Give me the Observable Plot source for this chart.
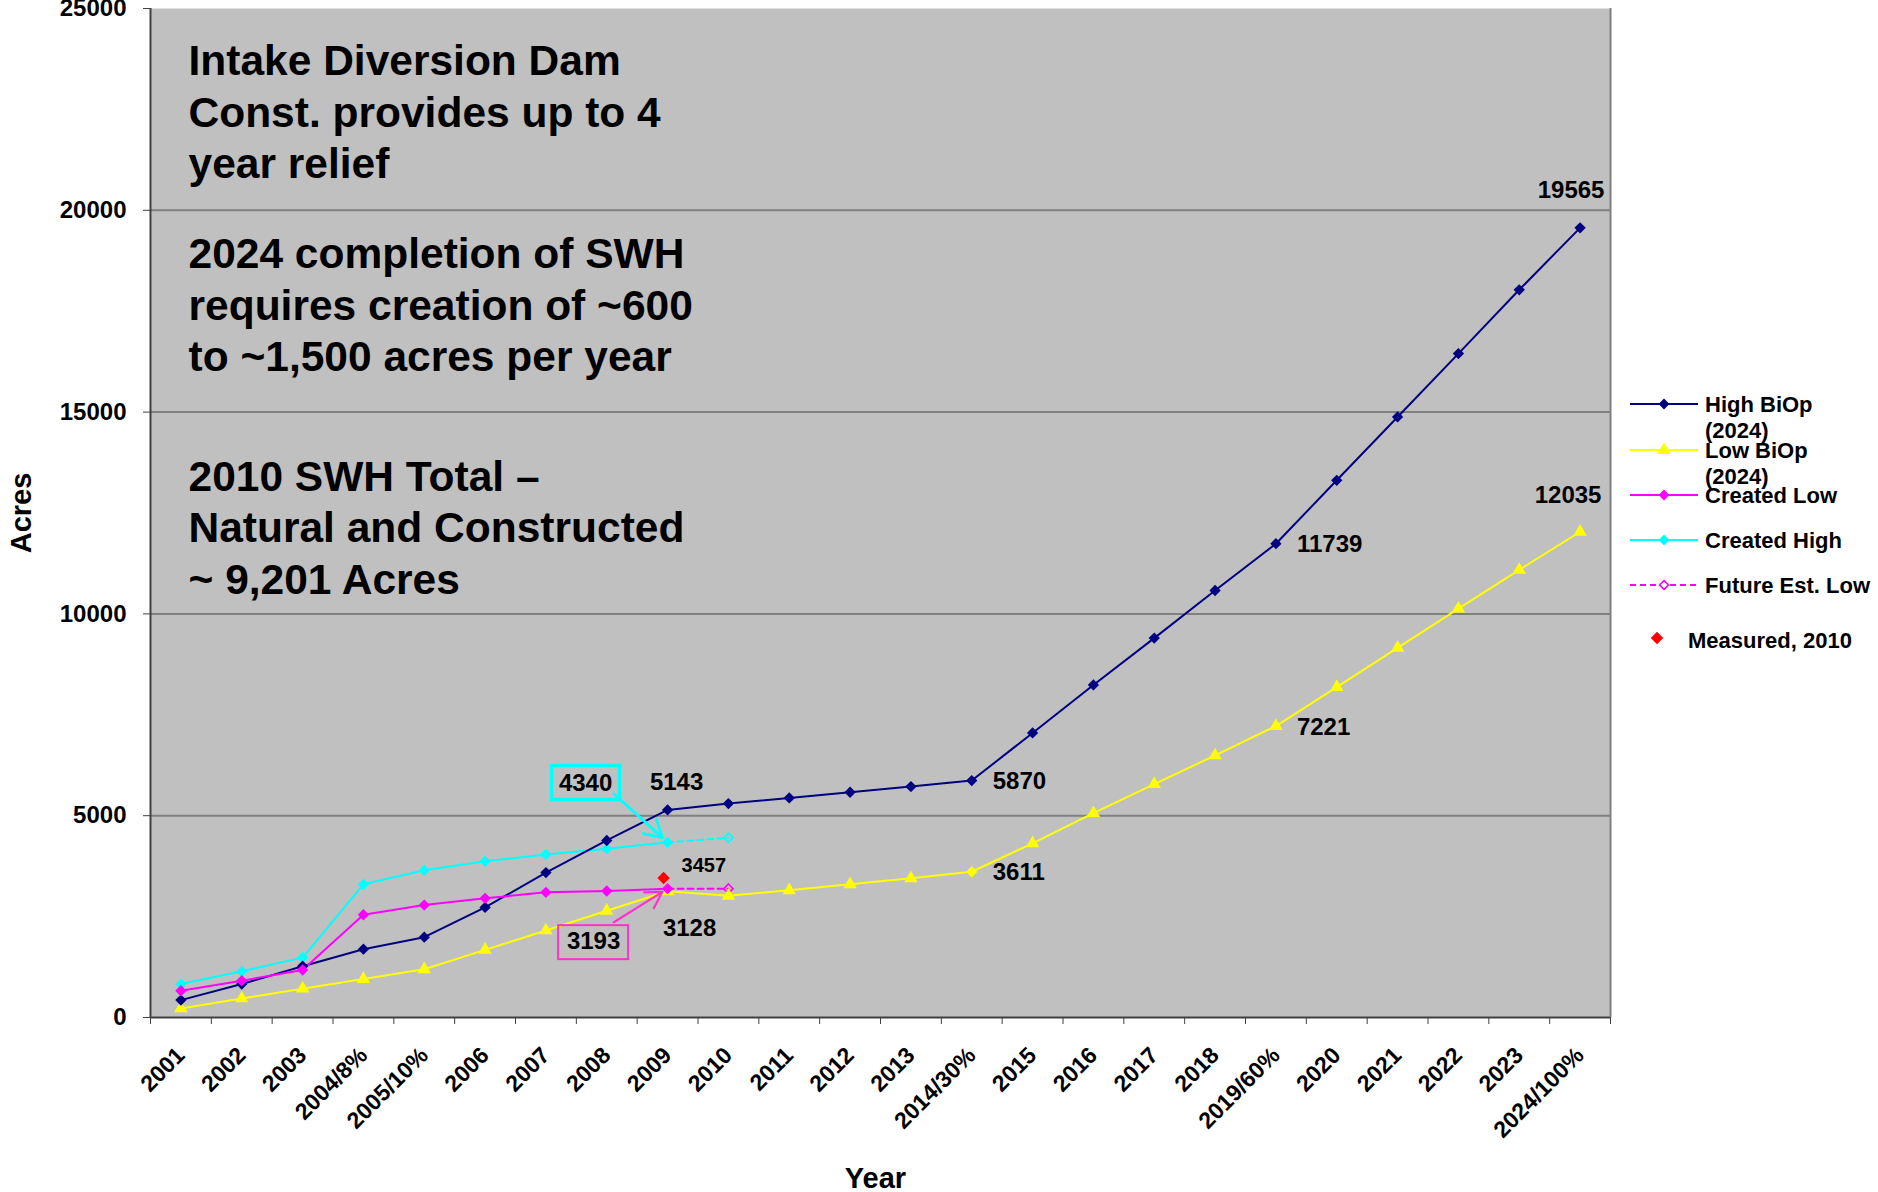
<!DOCTYPE html>
<html>
<head>
<meta charset="utf-8">
<script src="https://cdn.jsdelivr.net/npm/d3@7"></script>
<script src="https://cdn.jsdelivr.net/npm/@observablehq/plot@0.6"></script>
<style>
  html, body { margin: 0; padding: 0; background: #fff; overflow: hidden; }
  #wrap { position: relative; width: 1878px; height: 1192px; }
  #legend { position: absolute; left: 0; top: 0; pointer-events: none; }
</style>
</head>
<body>
<div id="wrap"></div>
<script>
// ---------------- DATA ----------------
const categories = ["2001","2002","2003","2004/8%","2005/10%","2006","2007","2008","2009","2010",
  "2011","2012","2013","2014/30%","2015","2016","2017","2018","2019/60%","2020","2021","2022","2023","2024/100%"];

const highBiOp = [431, 829, 1269, 1692, 1990, 2728, 3590, 4386, 5143, 5300, 5440, 5581, 5721, 5870,
  7050, 8240, 9400, 10580, 11739, 13310, 14880, 16450, 18030, 19565];
const lowBiOp = [224, 473, 713, 954, 1194, 1675, 2156, 2645, 3128, 3015, 3151, 3300, 3449, 3611,
  4314, 5062, 5783, 6494, 7221, 8186, 9160, 10130, 11090, 12035];
const createdLow  = [663, 912, 1177, 2546, 2786, 2952, 3101, 3134, 3193];      // 2001-2009
const createdHigh = [829, 1144, 1484, 3300, 3648, 3872, 4038, 4179, 4340];     // 2001-2009
const futureCategories = ["2009", "2010"];
const futureEstLow  = [3193, 3193];
const futureEstHigh = [4340, 4453];
const measuredCategory = "2009";
const measured2010 = 3457;

const yTicks = [0, 5000, 10000, 15000, 20000, 25000];

const note1 = ["Intake Diversion Dam", "Const. provides up to 4", "year relief"];
const note2 = ["2024 completion of SWH", "requires creation of ~600", "to ~1,500 acres per year"];
const note3 = ["2010 SWH Total \u2013", "Natural and Constructed", "~ 9,201 Acres"];

// ---------------- HELPERS ----------------
const FONT = "'Liberation Sans', Arial, Helvetica, sans-serif";
const idx = c => categories.indexOf(c);
const pos = i => i + 0.5;                       // centre of a category slot
const rows = (vals, cats) => vals.map((v, k) => ({x: pos(idx(cats[k])), v, cat: cats[k]}));

const high  = rows(highBiOp, categories);
const low   = rows(lowBiOp, categories);
const cLow  = rows(createdLow, categories.slice(0, createdLow.length));
const cHigh = rows(createdHigh, categories.slice(0, createdHigh.length));
const fLow  = rows(futureEstLow, futureCategories);
const fHigh = rows(futureEstHigh, futureCategories);
const meas  = [{x: pos(idx(measuredCategory)), v: measured2010}];

const NAVY = "#000080", YELLOW = "#FFFF00", MAGENTA = "#FF00FF", CYAN = "#00FFFF", RED = "#FF0000", PINK = "#FF33CC";
const at = (arr, c) => arr.find(d => d.cat === c);

// data labels (value taken from series) with their placement relative to the point
const labelSpecs = [
  {d: at(high, "2024/100%"), dx: -9,  dy: -38, anchor: "middle", size: 24},
  {d: at(low,  "2024/100%"), dx: -12, dy: -36, anchor: "middle", size: 24},
  {d: at(high, "2019/60%"),  dx: 21,  dy: 1,   anchor: "start",  size: 24},
  {d: at(low,  "2019/60%"),  dx: 21,  dy: 1,   anchor: "start",  size: 24},
  {d: at(high, "2014/30%"),  dx: 21,  dy: 1,   anchor: "start",  size: 24},
  {d: at(low,  "2014/30%"),  dx: 21,  dy: 1,   anchor: "start",  size: 24},
  {d: at(high, "2009"),      dx: 9,   dy: -28, anchor: "middle", size: 24},
  {d: at(low,  "2009"),      dx: 22,  dy: 37,  anchor: "middle", size: 24},
  {d: meas[0],               dx: 14,  dy: -12, anchor: "start",  size: 20}
];

const cyanPt = at(cHigh, "2009"), pinkPt = at(cLow, "2009");
const arrows = [
  {x1: 7.616, y1: 5543, x2: cyanPt.x, y2: cyanPt.v, color: CYAN, sw: 2.8, head: 10.5, inset: 7},
  {x1: 7.616, y1: 2361, x2: pinkPt.x, y2: pinkPt.v, color: PINK, sw: 2.2, head: 12.5, inset: 6}
];

const bold = {fontWeight: "bold"};

const plot = Plot.plot({
  width: 1878,
  height: 1192,
  marginLeft: 150,
  marginRight: 268,
  marginTop: 8,
  marginBottom: 175,
  style: {fontFamily: FONT, fontWeight: "bold", background: "white", color: "black"},
  x: {type: "linear", domain: [0, categories.length]},
  y: {domain: [0, 25000]},
  marks: [
    Plot.frame({fill: "#C0C0C0", stroke: "none"}),
    Plot.ruleY(yTicks.filter(t => t > 0 && t < 25000), {stroke: "#808080", strokeWidth: 2}),
    Plot.ruleX([categories.length], {stroke: "#808080", strokeWidth: 2}),
    Plot.axisY({ticks: yTicks, tickSize: 7, tickPadding: 17, tickFormat: d => String(d), fontSize: 24, label: null, stroke: "#404040", ...bold}),
    Plot.axisX({ticks: d3.range(0, categories.length + 1), tickSize: 7, tickFormat: () => "", label: null, stroke: "#404040"}),
    Plot.axisX({ticks: categories.map((c, i) => pos(i)), tickSize: 0, tickPadding: 34, tickRotate: -45,
      tickFormat: t => categories[Math.floor(t)], fontSize: 23, label: null, ...bold}),
    Plot.ruleX([0], {stroke: "#404040", strokeWidth: 2}),
    Plot.ruleY([0], {stroke: "#404040", strokeWidth: 2}),

    // annotations
    ...[[note1, 30], [note2, 223], [note3, 445.5]].map(([lines, dy]) =>
      Plot.text([lines.join("\n")], {text: d => d, frameAnchor: "top-left", textAnchor: "start", lineAnchor: "top",
        lineHeight: 1.215, fontSize: 42.5, dx: 38, dy, fill: "black", ...bold})),

    // series lines
    Plot.line(fHigh, {x: "x", y: "v", stroke: CYAN, strokeWidth: 2, strokeDasharray: "6,4"}),
    Plot.line(fLow, {x: "x", y: "v", stroke: MAGENTA, strokeWidth: 2, strokeDasharray: "6,4"}),
    Plot.line(cHigh, {x: "x", y: "v", stroke: CYAN, strokeWidth: 2}),
    Plot.line(low, {x: "x", y: "v", stroke: YELLOW, strokeWidth: 2}),
    Plot.line(high, {x: "x", y: "v", stroke: NAVY, strokeWidth: 2}),
    Plot.line(cLow, {x: "x", y: "v", stroke: MAGENTA, strokeWidth: 2}),

    // markers
    Plot.dot(fHigh.slice(1), {x: "x", y: "v", symbol: "diamond2", r: 4.2, fill: "none", stroke: CYAN, strokeWidth: 1.6}),
    Plot.dot(fLow.slice(1), {x: "x", y: "v", symbol: "diamond2", r: 4.2, fill: "none", stroke: MAGENTA, strokeWidth: 1.6}),
    Plot.dot(cHigh, {x: "x", y: "v", symbol: "diamond2", r: 5.1, fill: CYAN, stroke: "none"}),
    Plot.dot(low, {x: "x", y: "v", symbol: "triangle", r: 5, fill: YELLOW, stroke: "none", filter: d => d.cat !== "2014/30%"}),
    Plot.dot(low, {x: "x", y: "v", symbol: "diamond2", r: 5.1, fill: YELLOW, stroke: "none", filter: d => d.cat === "2014/30%"}),
    Plot.dot(high, {x: "x", y: "v", symbol: "diamond2", r: 5.1, fill: NAVY, stroke: "none"}),
    Plot.dot(cLow, {x: "x", y: "v", symbol: "diamond2", r: 5.1, fill: MAGENTA, stroke: "none"}),
    Plot.dot(meas, {x: "x", y: "v", symbol: "diamond2", r: 5.6, fill: RED, stroke: "none", dx: -4}),

    // callout boxes
    Plot.rect([cyanPt], {x1: "x", x2: "x", y1: "v", y2: "v", insetLeft: -34, insetRight: -34, insetTop: -17, insetBottom: -17,
      dx: -81.5, dy: -59.3, fill: "none", stroke: CYAN, strokeWidth: 3.5}),
    Plot.text([cyanPt], {x: "x", y: "v", text: d => String(d.v), dx: -82, dy: -59.3, fontSize: 24, fill: "black", ...bold}),
    Plot.rect([pinkPt], {x1: "x", x2: "x", y1: "v", y2: "v", insetLeft: -35, insetRight: -35, insetTop: -17, insetBottom: -17,
      dx: -74, dy: 54, fill: "none", stroke: PINK, strokeWidth: 2}),
    Plot.text([pinkPt], {x: "x", y: "v", text: d => String(d.v), dx: -74, dy: 53, fontSize: 24, fill: "black", ...bold}),
    ...arrows.map(a => Plot.arrow([a], {x1: "x1", y1: "y1", x2: "x2", y2: "y2", stroke: a.color, strokeWidth: a.sw,
      headLength: a.head, insetEnd: a.inset})),

    // data labels
    ...labelSpecs.map(s => Plot.text([s.d], {x: "x", y: "v", text: d => String(d.v), dx: s.dx, dy: s.dy,
      textAnchor: s.anchor, fontSize: s.size, fill: "black", ...bold})),

    // axis titles
    Plot.text(["Acres"], {text: d => d, frameAnchor: "left", textAnchor: "middle", rotate: -90, dx: -128.5, fontSize: 29, fill: "black", ...bold}),
    Plot.text(["Year"], {text: d => d, frameAnchor: "bottom", textAnchor: "middle", dx: -5, dy: 170, fontSize: 29, fill: "black", ...bold})
  ]
});

const wrap = document.getElementById("wrap");
wrap.appendChild(plot);

// ---------------- LEGEND ----------------
const legendItems = [
  {lines: ["High BiOp", "(2024)"], color: NAVY, sym: "diamond", y: 404},
  {lines: ["Low BiOp", "(2024)"], color: YELLOW, sym: "triangle", y: 450},
  {lines: ["Created Low"], color: MAGENTA, sym: "diamond", y: 495},
  {lines: ["Created High"], color: CYAN, sym: "diamond", y: 540},
  {lines: ["Future Est. Low"], color: MAGENTA, sym: "open", y: 585, dash: "6,4"}
];
const svg = d3.select(wrap).append("svg").attr("id", "legend").attr("width", 1878).attr("height", 1192)
  .style("font-family", FONT).style("font-weight", "bold").style("font-size", "22px");
for (const it of legendItems) {
  const g = svg.append("g");
  g.append("line").attr("x1", 1630).attr("x2", 1698).attr("y1", it.y).attr("y2", it.y)
    .attr("stroke", it.color).attr("stroke-width", 2).attr("stroke-dasharray", it.dash || null);
  const shape = it.sym === "triangle" ? d3.symbolTriangle : d3.symbolDiamond2;
  g.append("path").attr("d", d3.symbol(shape, it.sym === "triangle" ? 80 : (it.sym === "open" ? 50 : 75))())
    .attr("transform", `translate(1664,${it.y})`)
    .attr("fill", it.sym === "open" ? "white" : it.color)
    .attr("stroke", it.sym === "open" ? it.color : "none").attr("stroke-width", 1.6);
  it.lines.forEach((t, k) => {
    g.append("text").attr("x", 1705).attr("y", it.y + k * 26).attr("dy", "0.35em").attr("fill", "black").text(t);
  });
}
svg.append("path").attr("d", d3.symbol(d3.symbolDiamond2, 100)()).attr("transform", "translate(1657,638)").attr("fill", RED);
svg.append("text").attr("x", 1688).attr("y", 640).attr("dy", "0.35em").attr("fill", "black").text("Measured, 2010");
</script>
</body>
</html>
